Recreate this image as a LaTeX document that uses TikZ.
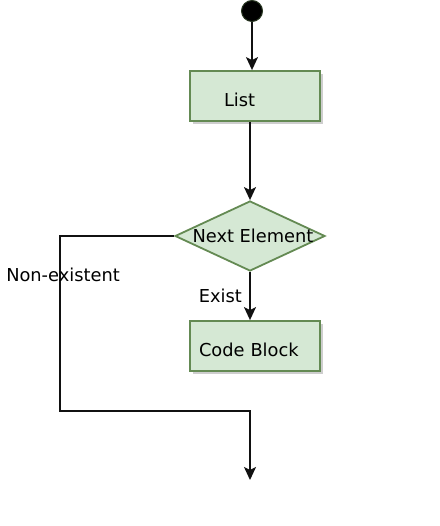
\documentclass[tikz,border=0pt]{standalone}
\usepackage{fontspec}
\setmainfont{DejaVu Sans}
\usetikzlibrary{arrows.meta, shapes.geometric, shadows}
\definecolor{boxfill}{HTML}{D5E8D4}
\definecolor{boxline}{HTML}{648A53}
\definecolor{ink}{HTML}{111111}
\begin{document}
\begin{tikzpicture}[
    x=1pt, y=-1pt,
    every node/.style={font=\fontsize{17.8}{21}\selectfont, text=black},
    flow/.style={draw=ink, line width=1.6pt, -{Stealth[length=13pt, width=12pt, inset=3pt]}},
    shade/.style={drop shadow={shadow xshift=3pt, shadow yshift=-3pt, fill=gray!55, opacity=0.7}},
    block/.style={rectangle, draw=boxline, fill=boxfill, line width=1.8pt, shade,
        minimum width=130pt, minimum height=50pt, inner xsep=0pt, align=left,
        text height=21pt, text depth=0pt},
    decision/.style={diamond, draw=boxline, fill=boxfill, line width=1.8pt,
        minimum width=150pt, minimum height=70pt, inner sep=0pt},
    startdot/.style={circle, draw=boxline!40!black, fill=black, line width=1pt,
        minimum size=21pt, inner sep=0pt}
]
\useasboundingbox (0,0) rectangle (439,526);
% Nodes
\node[startdot] (start) at (252,11) {};
\node[block, text width=62pt] (list) at (255,96) {List};
\node[decision, label={[xshift=3pt]center:Next Element}] (next) at (250,236) {};
\node[block, text width=112pt] (code) at (255,346) {Code Block};
\coordinate (loop) at (60,411);
\coordinate (exit) at (250,480);
% Connectors
\draw[flow] (start) -- (start |- list.north);
\draw[flow] (list.south -| next.north) -- (next.north);
\draw[flow] (next.south) -- (next.south |- code.north)
    node[midway, left, xshift=-4pt] {Exist};
\draw[flow] (next.west) -| (loop)
    node[pos=0.61, xshift=3pt] {Non-existent} -| (exit);
\end{tikzpicture}
\end{document}
